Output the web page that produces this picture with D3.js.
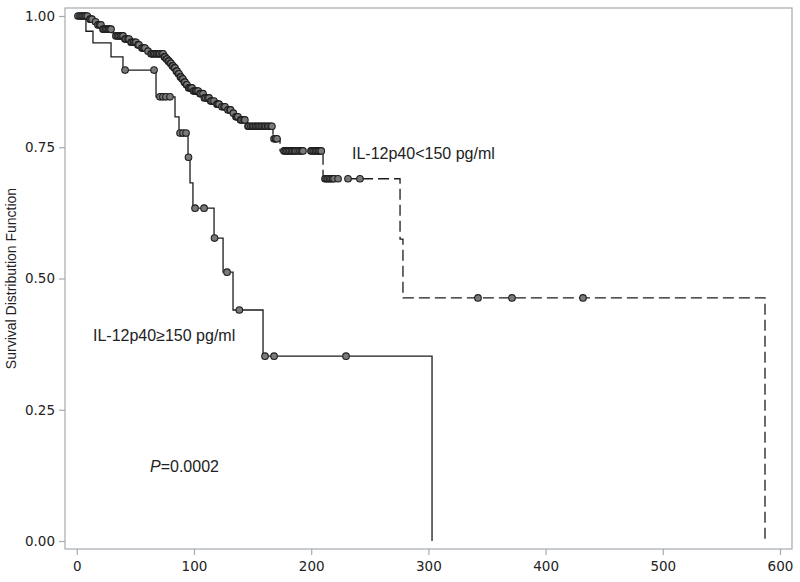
<!DOCTYPE html>
<html>
<head>
<meta charset="utf-8">
<script src="https://cdn.jsdelivr.net/npm/d3@7"></script>
<style>
  body { margin: 0; background: #fff; }
  svg { display: block; }
</style>
</head>
<body>
<div id="chart"></div>
<script>
// Kaplan-Meier curves (days, survival)
const lowEvents = [
  [10.4, 0.994], [14.7, 0.989], [17.2, 0.983], [21.5, 0.975], [30.0, 0.968],
  [31.7, 0.962], [40.3, 0.956], [45.4, 0.950], [51.4, 0.945], [54.8, 0.939],
  [59.9, 0.933], [62.5, 0.928], [74.4, 0.922], [76.1, 0.918], [77.8, 0.914],
  [79.5, 0.910], [81.2, 0.905], [82.9, 0.901], [84.6, 0.895], [86.3, 0.890],
  [88.1, 0.884], [89.8, 0.880], [91.5, 0.874], [93.2, 0.869], [94.9, 0.863],
  [99.1, 0.857], [104.3, 0.852], [108.5, 0.844], [113.7, 0.838], [118.8, 0.832],
  [122.2, 0.827], [127.3, 0.821], [132.4, 0.815], [134.1, 0.808], [139.2, 0.802],
  [144.4, 0.790], [167.4, 0.766], [173.4, 0.743], [210.1, 0.690], [275.8, 0.575],
  [278.3, 0.463], [587.2, 0]
]
const lowCensored = [
  1.0, 2.7, 3.9, 5.3, 6.5, 7.8, 9.0, 11.3, 12.1, 13.0, 16.0, 18.1, 19.4, 20.6,
  22.4, 23.2, 24.5, 25.8, 27.0, 28.3, 29.2, 33.4, 34.7, 36.0, 37.3, 38.6, 39.5,
  41.1, 42.0, 43.7, 44.6, 46.3, 47.1, 48.4, 49.7, 50.5, 52.2, 53.1, 55.6, 56.5,
  57.4, 58.2, 60.8, 63.4, 64.2, 65.5, 66.7, 68.0, 69.3, 70.2, 71.0, 72.7, 73.6,
  74.8, 75.3, 76.5, 77.0, 78.2, 78.7, 79.9, 80.4, 81.6, 82.1, 83.3, 83.8, 85.0,
  85.5, 86.7, 87.2, 88.4, 88.9, 90.0, 90.6, 91.8, 92.3, 93.6, 94.0, 95.5, 96.6,
  97.4, 98.3, 99.6, 100.9, 101.5, 102.6, 103.6, 105.2, 106.0, 107.7, 108.9,
  110.2, 111.9, 112.8, 114.3, 115.4, 117.1, 119.6, 120.5, 121.4, 123.9, 125.6,
  126.5, 129.0, 130.7, 131.2, 133.6, 135.8, 136.6, 137.5, 139.8, 141.0, 142.7,
  143.4, 146.1, 146.9, 148.6, 150.0, 151.2, 152.5, 153.8, 155.0, 156.3, 157.5,
  158.9, 160.2, 161.4, 162.8, 164.0, 165.7, 166.5, 168.3, 169.5, 170.8, 176.8,
  178.0, 179.3, 180.6, 181.9, 183.2, 184.5, 185.8, 187.0, 188.8, 190.4, 191.7,
  193.0, 199.8, 200.9, 202.4, 203.7, 205.0, 206.2, 207.5, 208.6, 211.8, 212.9,
  214.3, 215.6, 216.9, 218.2, 219.5, 222.9, 231.4, 241.6, 342.3, 371.3, 431.9
]
const highEvents = [
  [7.8, 0.971], [13.8, 0.949], [29.2, 0.922], [39.4, 0.897], [67.6, 0.846],
  [83.8, 0.808], [87.2, 0.777], [94.9, 0.731], [96.6, 0.682], [99.1, 0.634],
  [117.1, 0.577], [124.8, 0.512], [133.3, 0.440], [158.9, 0.352], [303.1, 0]
]
const highCensored = [
  41.2, 65.9, 71.0, 73.5, 76.0, 79.5, 88.1, 90.6, 93.2, 95.3, 100.9, 108.6,
  117.5, 128.2, 138.7, 160.6, 168.3, 229.7
]
const xTicks = [0, 100, 200, 300, 400, 500, 600]
const yTicks = [0, 0.25, 0.5, 0.75, 1]

const width = 800
const height = 582
const frame = { left: 65, right: 792, top: 8, bottom: 549 }

const svg = d3.select('#chart')
  .append('svg')
  .attr('width', width)
  .attr('height', height)

const x = d3.scaleLinear().domain([0, 600]).range([76.8, 780])
const y = d3.scaleLinear().domain([0, 1]).range([541, 16])

// frame
svg.append('rect')
  .attr('x', frame.left)
  .attr('y', frame.top)
  .attr('width', frame.right - frame.left)
  .attr('height', frame.bottom - frame.top)
  .attr('fill', 'none')
  .attr('stroke', '#a3abb2')
  .attr('stroke-width', 1.2)

const styleAxis = g => {
  g.select('.domain').remove()
  g.selectAll('.tick line').attr('stroke', '#a3abb2').attr('stroke-width', 1.2)
  g.selectAll('.tick text')
    .attr('fill', '#222')
    .style('font-family', 'DejaVu Sans, sans-serif')
    .style('font-size', '13.5px')
}

svg.append('g')
  .attr('transform', `translate(0,${frame.bottom})`)
  .call(d3.axisBottom(x).tickValues(xTicks).tickSize(6).tickPadding(6).tickFormat(d3.format('d')))
  .call(styleAxis)

svg.append('g')
  .attr('transform', `translate(${frame.left},0)`)
  .call(d3.axisLeft(y).tickValues(yTicks).tickSize(6).tickPadding(4).tickFormat(d3.format('.2f')))
  .call(styleAxis)

svg.append('text')
  .attr('transform', `translate(16,${(frame.top + frame.bottom) / 2}) rotate(-90)`)
  .attr('text-anchor', 'middle')
  .style('font-family', 'Liberation Sans, Arial, sans-serif')
  .style('font-size', '14px')
  .attr('fill', '#222')
  .text('Survival Distribution Function')

const line = d3.line()
  .x(d => x(d[0]))
  .y(d => y(d[1]))
  .curve(d3.curveStepAfter)

const levelAt = (events, t) => {
  let s = 1
  events.forEach(e => { if (e[0] <= t) s = e[1] })
  return s
}

const drawCurve = (events, censored, dash) => {
  const g = svg.append('g')
  g.append('path')
    .datum([[0, 1]].concat(events))
    .attr('d', line)
    .attr('fill', 'none')
    .attr('stroke', '#1c1c1c')
    .attr('stroke-width', 1.3)
    .attr('stroke-dasharray', dash)

  g.selectAll('circle')
    .data(censored)
    .enter()
    .append('circle')
    .attr('cx', t => x(t))
    .attr('cy', t => y(levelAt(events, t)))
    .attr('r', 3.3)
    .attr('fill', '#7a7a7a')
    .attr('stroke', '#1e1e1e')
    .attr('stroke-width', 1.1)
}

drawCurve(highEvents, highCensored, null)
drawCurve(lowEvents, lowCensored, '11,5')

const label = (tx, ty) => svg.append('text')
  .attr('x', tx)
  .attr('y', ty)
  .style('font-family', 'Liberation Sans, Arial, sans-serif')
  .style('font-size', '16px')
  .attr('fill', '#222')

label(352, 159).text('IL-12p40<150 pg/ml')
label(93, 341).text('IL-12p40≥150 pg/ml')

const p = label(150, 472)
p.append('tspan').style('font-style', 'italic').text('P')
p.append('tspan').text('=0.0002')
</script>
</body>
</html>
